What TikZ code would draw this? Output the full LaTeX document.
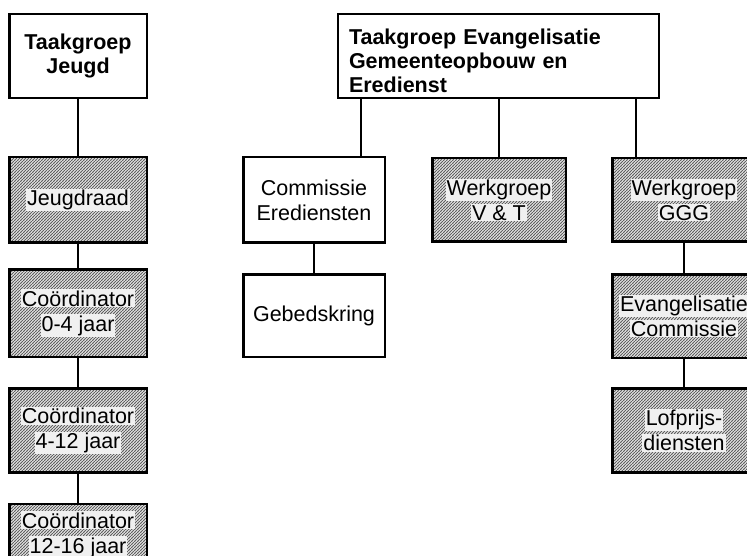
\documentclass[tikz,border=0pt]{standalone}
\usepackage{fontspec}
\setmainfont{Liberation Sans}
\usepackage{tikz}
\usetikzlibrary{shapes, patterns.meta, positioning}

\definecolor{txtbg}{HTML}{F0F0F0}
\definecolor{hatchgray}{HTML}{606060}
\tikzdeclarepattern{
  name=hatch,
  type=uncolored,
  bounding box={(-1pt,-1pt) and (4pt,4pt)},
  tile size={(3pt,3pt)},
  code={\draw[line width=0.9pt] (-1pt,-1pt) -- (4pt,4pt);}
}
\newcommand{\lbg}[1]{{\setlength{\fboxsep}{1pt}\colorbox{txtbg}{#1}}}

\begin{document}
\begin{tikzpicture}[x=1pt,y=-1pt]
\tikzset{
  box/.style = {draw, line width=2.5pt, minimum height=84pt, align=center,
    inner sep=2pt, font=\fontsize{21.5}{25}\selectfont},
  hatched/.style = {box, pattern=hatch, pattern color=hatchgray},
  headfont/.style = {font=\fontsize{21.5}{24}\selectfont\bfseries},
  edge/.style = {line width=2pt}
}
\useasboundingbox (0,0) rectangle (747,556);
\clip (0,0) rectangle (747,556);
\fill[white] (0,0) rectangle (747,556);
            % vertices
	\node[box, headfont, minimum width=137.5pt] (tj) at (78,56) {Taakgroep\\Jeugd};
	\node[hatched, minimum width=137.5pt, minimum height=85.5pt] (jr) at (78,200) {\lbg{Jeugdraad}};
	\node[hatched, minimum width=137.5pt, minimum height=87.5pt] (c1) at (78,313) {\lbg{Coördinator}\\\lbg{0-4 jaar}};
	\node[hatched, minimum width=137.5pt] (c2) at (78,430.5) {\lbg{Coördinator}\\\lbg{4-12 jaar}};
	\node[hatched, minimum width=137.5pt, minimum height=62pt] (c3) at (78,535) {\lbg{Coördinator}\\\lbg{12-16 jaar}};
	\node[box, headfont, align=left, text width=299pt, minimum width=320.5pt,
	  inner xsep=11pt, inner ysep=3pt, text height=28pt, text depth=50pt] (te) at (498.5,56)
	  {Taakgroep Evangelisatie\\Gemeenteopbouw en\\Eredienst};
	\node[box, minimum width=141.5pt, minimum height=85.5pt] (ce) at (314,200) {Commissie\\Erediensten};
	\node[box, minimum width=141.5pt, minimum height=82.5pt] (gb) at (314,315.5) {Gebedskring};
	\node[hatched, minimum width=133.5pt, minimum height=83.5pt] (vt) at (499,200) {\lbg{Werkgroep}\\\lbg{V \& T}};
	\node[hatched, minimum width=143.5pt, minimum height=83.5pt] (ggg) at (684,200) {\lbg{Werkgroep}\\\lbg{GGG}};
	\node[hatched, minimum width=143.5pt, minimum height=83.5pt] (ec) at (684,316) {\lbg{Evangelisatie}\\\lbg{Commissie}};
	\node[hatched, minimum width=143.5pt] (lp) at (684,430.5) {\lbg{Lofprijs-}\\\lbg{diensten}};
            %edges
	\draw[edge] (tj) to (jr);
	\draw[edge] (jr) to (c1);
	\draw[edge] (c1) to (c2);
	\draw[edge] (c2) to (c3);
	\draw[edge] ([xshift=47pt]ce.north) to ([xshift=47pt]ce.north |- te.south);
	\draw[edge] (vt.north) to (vt.north |- te.south);
	\draw[edge] ([xshift=-48pt]ggg.north) to ([xshift=-48pt]ggg.north |- te.south);
	\draw[edge] (ce) to (gb);
	\draw[edge] (ggg) to (ec);
	\draw[edge] (ec) to (lp);
\end{tikzpicture}
\end{document}
